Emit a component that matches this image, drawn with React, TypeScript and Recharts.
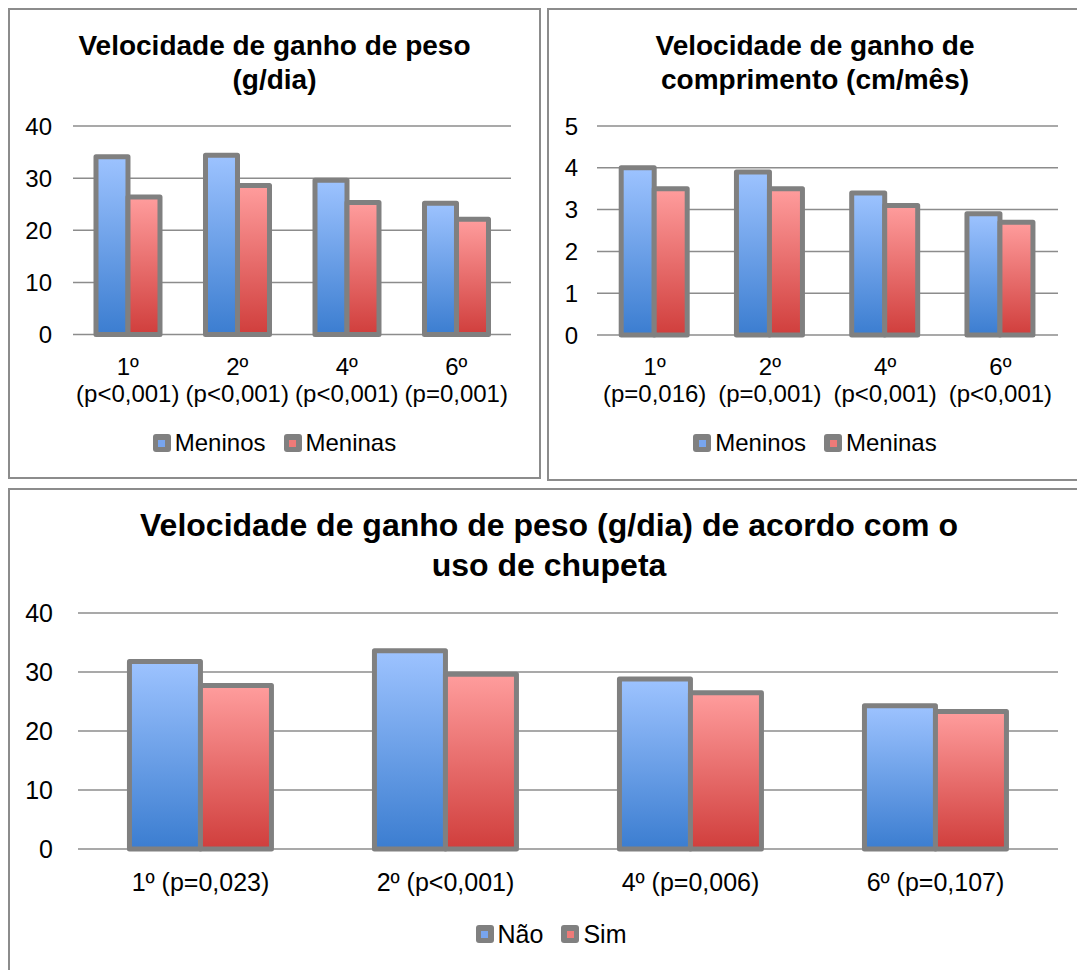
import React from "react";
import { BarChart, Bar, XAxis, YAxis, CartesianGrid } from "recharts";

// categorias e valores
const semanas = ["1º", "2º", "4º", "6º"];
const pesoP = ["(p<0,001)", "(p<0,001)", "(p<0,001)", "(p=0,001)"];
const pesoMeninos = [34.1, 34.4, 29.6, 25.2];
const pesoMeninas = [26.4, 28.6, 25.3, 22.1];
const pesoTicks = [0, 10, 20, 30, 40];

const compP = ["(p=0,016)", "(p=0,001)", "(p<0,001)", "(p<0,001)"];
const compMeninos = [4.0, 3.9, 3.4, 2.9];
const compMeninas = [3.5, 3.5, 3.1, 2.7];
const compTicks = [0, 1, 2, 3, 4, 5];

const chupetaLabels = ["1º (p=0,023)", "2º (p<0,001)", "4º (p=0,006)", "6º (p=0,107)"];
const chupetaNao = [31.8, 33.6, 28.8, 24.3];
const chupetaSim = [27.7, 29.6, 26.5, 23.3];

const FONT = '"Liberation Sans", Arial, sans-serif';
const GRID = "#8c8c8c";
const BORDER = "#808080";

const pesoData = semanas.map((s, i) => ({ cat: s, p: pesoP[i], a: pesoMeninos[i], b: pesoMeninas[i] }));
const compData = semanas.map((s, i) => ({ cat: s, p: compP[i], a: compMeninos[i], b: compMeninas[i] }));
const chupetaData = chupetaLabels.map((s, i) => ({ cat: s, a: chupetaNao[i], b: chupetaSim[i] }));

function Gradients({ id }: { id: string }) {
  return (
    <defs>
      <linearGradient id={`${id}-blue`} x1="0" y1="0" x2="0" y2="1">
        <stop offset="0%" stopColor="#9dc3ff" />
        <stop offset="100%" stopColor="#3b7dd0" />
      </linearGradient>
      <linearGradient id={`${id}-red`} x1="0" y1="0" x2="0" y2="1">
        <stop offset="0%" stopColor="#ff9d9d" />
        <stop offset="100%" stopColor="#d03e3c" />
      </linearGradient>
    </defs>
  );
}

function TwoLineTick(props: any) {
  const { x, y, payload, data } = props;
  const row = data[payload.index];
  return (
    <text x={x} y={y} textAnchor="middle" fill="#000" fontSize={24} fontFamily={FONT}>
      <tspan x={x} dy={40}>{payload.value}</tspan>
      <tspan x={x} dy={27}>{row ? row.p : ""}</tspan>
    </text>
  );
}

function OneLineTick(props: any) {
  const { x, y, payload } = props;
  return (
    <text x={x} y={y + 42} textAnchor="middle" fill="#000" fontSize={25} fontFamily={FONT}>
      {payload.value}
    </text>
  );
}

function LegendBox({ items, cx, cy, size }: { items: { label: string; color: string }[]; cx: number; cy: number; size: number }) {
  return (
    <div
      style={{
        position: "absolute",
        left: cx - 300,
        width: 600,
        top: cy - 16,
        height: 32,
        display: "flex",
        justifyContent: "center",
        alignItems: "center",
        gap: 18,
        fontSize: size,
        fontFamily: FONT,
      }}
    >
      {items.map((it) => (
        <div key={it.label} style={{ display: "flex", alignItems: "center" }}>
          <div
            style={{
              width: 18,
              height: 18,
              borderRadius: 3,
              background: BORDER,
              display: "flex",
              alignItems: "center",
              justifyContent: "center",
              marginRight: 4,
            }}
          >
            <div style={{ width: 7, height: 7, background: it.color }} />
          </div>
          <span>{it.label}</span>
        </div>
      ))}
    </div>
  );
}

function Title({ lines, cx, top, size, lh }: { lines: string[]; cx: number; top: number; size: number; lh: number }) {
  return (
    <div
      style={{
        position: "absolute",
        left: cx - 500,
        width: 1000,
        top,
        textAlign: "center",
        fontWeight: "bold",
        fontSize: size,
        lineHeight: `${lh}px`,
        fontFamily: FONT,
      }}
    >
      {lines.map((l) => (
        <div key={l}>{l}</div>
      ))}
    </div>
  );
}

const panel = (left: number, top: number, width: number, height: number): React.CSSProperties => ({
  position: "absolute",
  left,
  top,
  width,
  height,
  border: `2px solid ${GRID}`,
  boxSizing: "border-box",
});

export default function App() {
  const sexLegend = [
    { label: "Meninos", color: "#78a5ee" },
    { label: "Meninas", color: "#ee7a78" },
  ];
  return (
    <div
      style={{
        position: "absolute",
        left: 0,
        top: 0,
        width: 1077,
        height: 970,
        overflow: "hidden",
        background: "#fff",
        fontFamily: FONT,
      }}
    >
      <div style={panel(8, 8, 533, 471)} />
      <div style={panel(547, 8, 545, 473)} />
      <div style={panel(8, 488, 1090, 500)} />

      <Title lines={["Velocidade de ganho de peso", "(g/dia)"]} cx={274.5} top={29} size={28} lh={34} />
      <Title lines={["Velocidade de ganho de", "comprimento (cm/mês)"]} cx={815} top={29} size={28} lh={34} />
      <Title lines={["Velocidade de ganho de peso (g/dia) de acordo com o", "uso de chupeta"]} cx={549} top={505} size={32} lh={40} />

      <div style={{ position: "absolute", left: 8, top: 8 }}>
        <BarChart width={533} height={471} data={pesoData} margin={{ top: 118, right: 30, left: 5, bottom: 114.5 }} barCategoryGap="21%" barGap={0}>
          <Gradients id="g1" />
          <CartesianGrid vertical={false} stroke={GRID} strokeWidth={1.5} />
          <XAxis dataKey="cat" height={30} axisLine={false} tickLine={false} tickSize={0} tickMargin={0} interval={0} tick={<TwoLineTick data={pesoData} />} />
          <YAxis width={60} domain={[0, 40]} ticks={pesoTicks} axisLine={false} tickLine={false} tickSize={0} tickMargin={21} tick={{ fill: "#000", fontSize: 24, fontFamily: FONT }} />
          <Bar dataKey="a" fill="url(#g1-blue)" stroke={BORDER} strokeWidth={5} strokeLinejoin="round" isAnimationActive={false} />
          <Bar dataKey="b" fill="url(#g1-red)" stroke={BORDER} strokeWidth={5} strokeLinejoin="round" isAnimationActive={false} />
        </BarChart>
      </div>

      <div style={{ position: "absolute", left: 547, top: 8 }}>
        <BarChart width={530} height={473} data={compData} margin={{ top: 118, right: 19, left: 5, bottom: 116 }} barCategoryGap="21%" barGap={0}>
          <Gradients id="g2" />
          <CartesianGrid vertical={false} stroke={GRID} strokeWidth={1.5} />
          <XAxis dataKey="cat" height={30} axisLine={false} tickLine={false} tickSize={0} tickMargin={0} interval={0} tick={<TwoLineTick data={compData} />} />
          <YAxis width={45} domain={[0, 5]} ticks={compTicks} axisLine={false} tickLine={false} tickSize={0} tickMargin={19} tick={{ fill: "#000", fontSize: 24, fontFamily: FONT }} />
          <Bar dataKey="a" fill="url(#g2-blue)" stroke={BORDER} strokeWidth={5} strokeLinejoin="round" isAnimationActive={false} />
          <Bar dataKey="b" fill="url(#g2-red)" stroke={BORDER} strokeWidth={5} strokeLinejoin="round" isAnimationActive={false} />
        </BarChart>
      </div>

      <div style={{ position: "absolute", left: 8, top: 488 }}>
        <BarChart width={1069} height={482} data={chupetaData} margin={{ top: 125, right: 19, left: 10, bottom: 91 }} barCategoryGap="21%" barGap={0}>
          <Gradients id="g3" />
          <CartesianGrid vertical={false} stroke={GRID} strokeWidth={1.5} />
          <XAxis dataKey="cat" height={30} axisLine={false} tickLine={false} tickSize={0} tickMargin={0} interval={0} tick={<OneLineTick />} />
          <YAxis width={60} domain={[0, 40]} ticks={pesoTicks} axisLine={false} tickLine={false} tickSize={0} tickMargin={25} tick={{ fill: "#000", fontSize: 25, fontFamily: FONT }} />
          <Bar dataKey="a" fill="url(#g3-blue)" stroke={BORDER} strokeWidth={5} strokeLinejoin="round" isAnimationActive={false} />
          <Bar dataKey="b" fill="url(#g3-red)" stroke={BORDER} strokeWidth={5} strokeLinejoin="round" isAnimationActive={false} />
        </BarChart>
      </div>

      <LegendBox items={sexLegend} cx={274.5} cy={443} size={24} />
      <LegendBox items={sexLegend} cx={815} cy={443} size={24} />
      <LegendBox
        items={[
          { label: "Não", color: "#78a5ee" },
          { label: "Sim", color: "#ee7a78" },
        ]}
        cx={551}
        cy={934}
        size={25}
      />
    </div>
  );
}
